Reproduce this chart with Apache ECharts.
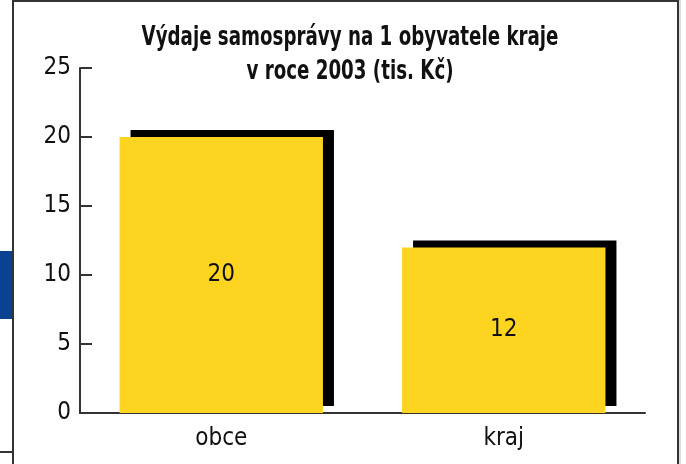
<!DOCTYPE html>
<html>
<head>
<meta charset="utf-8">
<script src="https://cdn.jsdelivr.net/npm/echarts@6/dist/echarts.min.js"></script>
<style>
  html, body { margin: 0; padding: 0; background: #fff; }
  #chart { width: 686px; height: 464px; }
</style>
</head>
<body>
<div id="chart"></div>
<script>
  // data
  var categories = ['obce', 'kraj'];
  var values = [20, 12];
  var titleLines = ['Výdaje samosprávy na 1 obyvatele kraje', 'v roce 2003 (tis. Kč)'];

  var font = '"DejaVu Sans Condensed", "Liberation Sans Narrow", sans-serif';

  var myChart = echarts.init(document.getElementById('chart'));
  myChart.setOption({
    backgroundColor: '#fff',
    animation: false,
    grid: { left: 80, right: 41, top: 68, bottom: 51 },
    xAxis: {
      type: 'category',
      data: categories,
      axisLine: { lineStyle: { color: '#333', width: 2 } },
      axisTick: { inside: true, length: 8, lineStyle: { color: '#333', width: 2 } },
      axisLabel: { fontFamily: font, fontSize: 24, color: '#111', margin: 14 }
    },
    yAxis: {
      type: 'value',
      min: 0,
      max: 25,
      interval: 5,
      splitLine: { show: false },
      axisLine: { show: true, lineStyle: { color: '#333', width: 2 } },
      axisTick: { show: true, inside: true, length: 12, lineStyle: { color: '#333', width: 2 } },
      axisLabel: { fontFamily: font, fontSize: 24, color: '#111', margin: 9 }
    },
    series: [{
      type: 'bar',
      data: values,
      barWidth: '72%',
      itemStyle: {
        color: '#fdd41f',
        shadowColor: '#000',
        shadowBlur: 0,
        shadowOffsetX: 11,
        shadowOffsetY: -7
      },
      label: {
        show: true,
        position: 'inside',
        fontFamily: font,
        fontSize: 24,
        color: '#111'
      }
    }],
    graphic: [
      // title, squeezed to look like the condensed original
      { type: 'text', x: 350, y: 38, scaleX: 0.78,
        style: { text: titleLines[0], align: 'center', verticalAlign: 'middle',
                 font: 'bold 26px ' + font, fill: '#111' } },
      { type: 'text', x: 350, y: 72, scaleX: 0.78,
        style: { text: titleLines[1], align: 'center', verticalAlign: 'middle',
                 font: 'bold 26px ' + font, fill: '#111' } },
      // frame round the chart
      { type: 'polyline', shape: { points: [[13, 464], [13, 1], [678, 1], [678, 464]] },
        style: { stroke: '#333', lineWidth: 2, fill: null } },
      { type: 'line', shape: { x1: 680, y1: 0, x2: 680, y2: 464 }, style: { stroke: '#bbb', lineWidth: 1 } },
      { type: 'rect', shape: { x: 0, y: 251, width: 12, height: 68 }, style: { fill: '#0a4190' } },
      { type: 'line', shape: { x1: 0, y1: 452, x2: 12, y2: 452 }, style: { stroke: '#333', lineWidth: 2 } }
    ]
  });
</script>
</body>
</html>
